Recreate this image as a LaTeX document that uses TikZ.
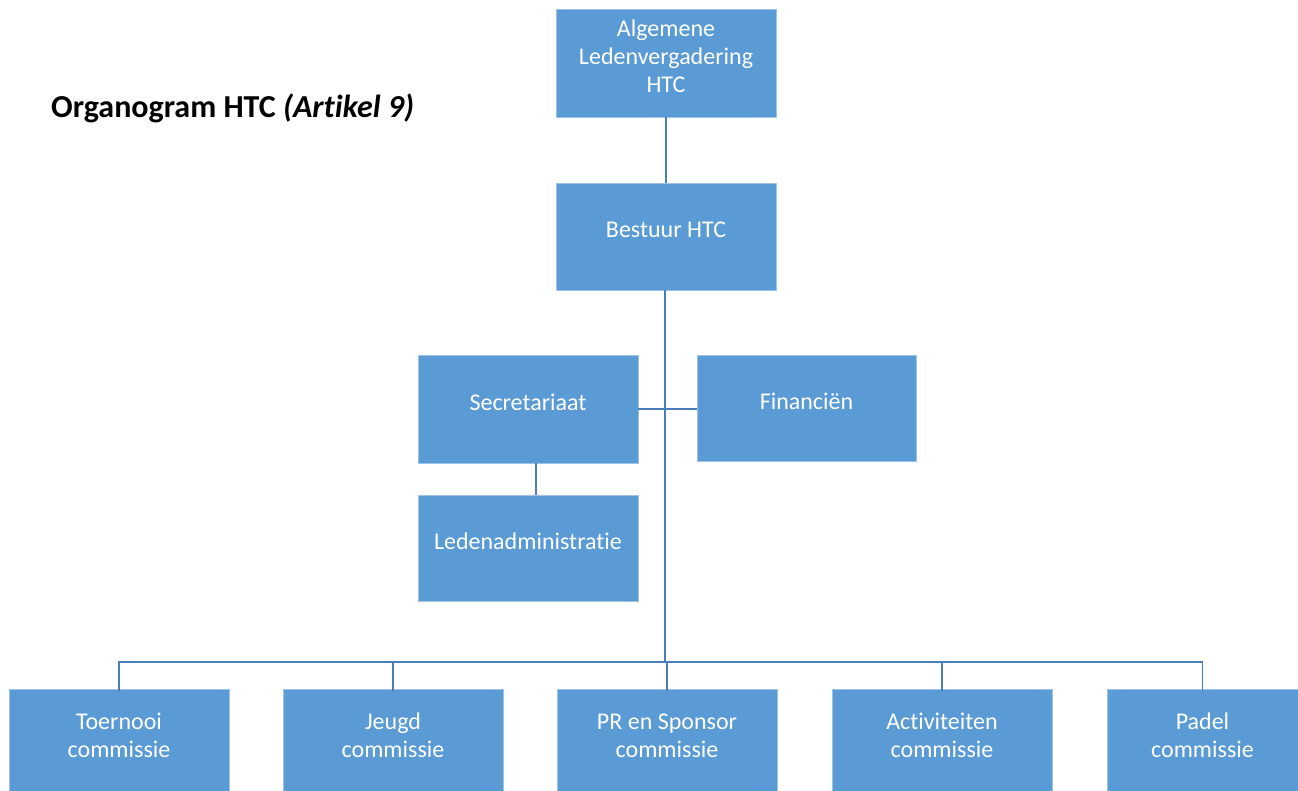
\documentclass[tikz,border=0pt]{standalone}
\usepackage{fontspec}
\setmainfont{Carlito}[Ligatures=NoCommon]
\definecolor{boxblue}{HTML}{5B9BD5}
\definecolor{boxedge}{HTML}{9DC3E6}
\definecolor{linkblue}{HTML}{4A7EBB}
\begin{document}
\begin{tikzpicture}[x=1pt,y=-1pt,
  orgbox/.style={rectangle,fill=boxblue,draw=boxedge,line width=0.8pt,
    minimum width=220pt,minimum height=107pt,inner sep=0pt},
  lbl/.style={text=white,align=center,font=\fontsize{24}{28}\selectfont,yshift=7pt,inner sep=0pt},
  link/.style={draw=linkblue,line width=1.8pt}]
\useasboundingbox (0,0) rectangle (1298,791);
\clip (0,0) rectangle (1298,791);
\fill[white] (0,0) rectangle (1298,791);

\node[anchor=west,inner sep=0pt,font=\fontsize{32}{38}\selectfont\bfseries] (title) at (51,108) {Organogram HTC \textit{(Artikel 9)}};

\node[orgbox,minimum height=108pt,label={[lbl]center:Algemene\\Ledenvergadering\\HTC}] (alv) at (666,63) {};
\node[orgbox,label={[lbl]center:Bestuur HTC}] (bestuur) at (666,236.5) {};
\node[orgbox,minimum height=108pt,label={[lbl]center:Secretariaat}] (secr) at (528,409) {};
\node[orgbox,minimum width=219pt,minimum height=106pt,label={[lbl]center:Financiën}] (fin) at (806.5,408) {};
\node[orgbox,minimum height=106pt,label={[lbl]center:Ledenadministratie}] (leden) at (528,548) {};

\node[orgbox,label={[lbl]center:Toernooi\\commissie}] (toern) at (119,742.5) {};
\node[orgbox,label={[lbl]center:Jeugd\\commissie}] (jeugd) at (393,742.5) {};
\node[orgbox,label={[lbl]center:PR en Sponsor\\commissie}] (pr) at (667,742.5) {};
\node[orgbox,label={[lbl]center:Activiteiten\\commissie}] (activ) at (942,742.5) {};
\node[orgbox,minimum width=191pt,label={[lbl]center:Padel\\commissie}] (padel) at (1202.5,742.5) {};

\coordinate (hub) at (665,662);

\draw[link] (alv.south) -- (bestuur.north);
\draw[link] ([xshift=-1pt]bestuur.south) -- (hub);
\draw[link] (secr.east) -- (secr.east -| fin.west);
\draw[link] ([xshift=8pt]secr.south) -- ([xshift=8pt]leden.north);
\draw[link] (hub) -| ([yshift=-2pt]toern.north);
\draw[link] (hub) -| ([yshift=-2pt]jeugd.north);
\draw[link] (hub) -| ([yshift=-2pt]pr.north);
\draw[link] (hub) -| ([yshift=-2pt]activ.north);
\draw[link] (hub) -| ([yshift=-2pt]padel.north);
\end{tikzpicture}
\end{document}
